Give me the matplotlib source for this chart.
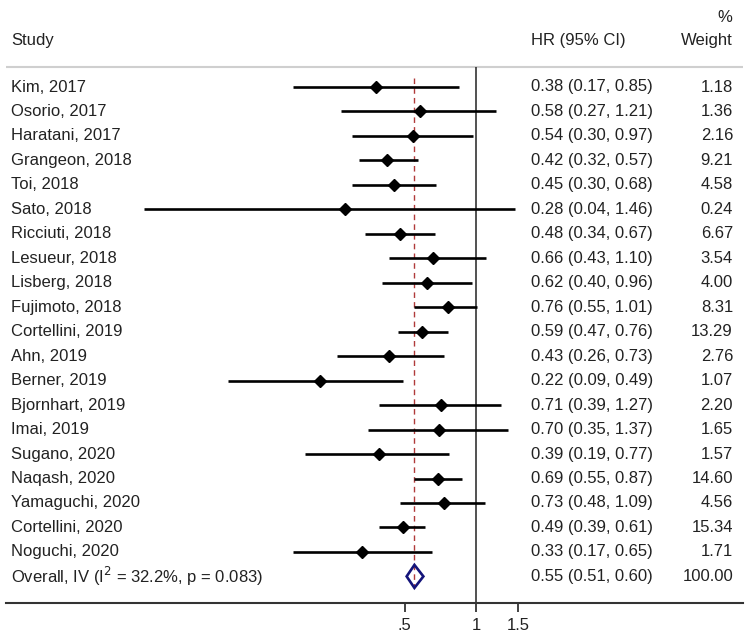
import numpy as np
import matplotlib.pyplot as plt
from matplotlib import transforms
from matplotlib.patches import Polygon

plt.rcParams['font.family'] = ['Liberation Sans', 'DejaVu Sans']

# data
studies = ['Kim, 2017', 'Osorio, 2017', 'Haratani, 2017', 'Grangeon, 2018', 'Toi, 2018',
           'Sato, 2018', 'Ricciuti, 2018', 'Lesueur, 2018', 'Lisberg, 2018', 'Fujimoto, 2018',
           'Cortellini, 2019', 'Ahn, 2019', 'Berner, 2019', 'Bjornhart, 2019', 'Imai, 2019',
           'Sugano, 2020', 'Naqash, 2020', 'Yamaguchi, 2020', 'Cortellini, 2020', 'Noguchi, 2020']
hr = [0.38, 0.58, 0.54, 0.42, 0.45, 0.28, 0.48, 0.66, 0.62, 0.76,
      0.59, 0.43, 0.22, 0.71, 0.70, 0.39, 0.69, 0.73, 0.49, 0.33]
lo = [0.17, 0.27, 0.30, 0.32, 0.30, 0.04, 0.34, 0.43, 0.40, 0.55,
      0.47, 0.26, 0.09, 0.39, 0.35, 0.19, 0.55, 0.48, 0.39, 0.17]
hi = [0.85, 1.21, 0.97, 0.57, 0.68, 1.46, 0.67, 1.10, 0.96, 1.01,
      0.76, 0.73, 0.49, 1.27, 1.37, 0.77, 0.87, 1.09, 0.61, 0.65]
weight = [1.18, 1.36, 2.16, 9.21, 4.58, 0.24, 6.67, 3.54, 4.00, 8.31,
          13.29, 2.76, 1.07, 2.20, 1.65, 1.57, 14.60, 4.56, 15.34, 1.71]

overall_label = 'Overall, IV (I$^2$ = 32.2%, p = 0.083)'
overall_hr, overall_lo, overall_hi, overall_w = 0.55, 0.51, 0.60, 100.00

tick_vals = [0.5, 1, 1.5]
tick_labels = ['.5', '1', '1.5']

W, H = 749, 639
fig = plt.figure(figsize=(W / 100, H / 100), dpi=100)

# axes spans 6..743 px horizontally, 0..603 px vertically (from top)
ax = fig.add_axes([6 / W, (H - 603) / H, 737 / W, 603 / H])
ax.set_xscale('log')
scale = 103.0
ax.set_xlim(np.exp((6 - 476) / scale), np.exp((743 - 476) / scale))
row0, step = 87.0, 24.47
ax.set_ylim((603 - row0) / step, (0 - row0) / step)

for s in ['top', 'left', 'right']:
    ax.spines[s].set_visible(False)
ax.spines['bottom'].set_linewidth(1.5)
ax.spines['bottom'].set_color('#333333')
ax.set_yticks([])
ax.set_xticks(tick_vals)
ax.set_xticklabels(tick_labels)
ax.xaxis.set_minor_locator(plt.NullLocator())
ax.tick_params(axis='x', length=6.5, width=1.2, pad=4, labelsize=12, colors='#222222')

y_top = (66.7 - row0) / step
y_bot = (603 - row0) / step

# header separator
ax.axhline(y_top, color='#cfcfcf', lw=1.5)
# null line
ax.vlines(1, y_top, y_bot, color='#222222', lw=1.1)
# overall effect line
ax.vlines(overall_hr, (78 - row0) / step, (588 - row0) / step, color='#b03a3a',
          lw=1.0, linestyles=(0, (4, 3)), zorder=1)

n = len(studies)
ys = np.arange(n)
ax.hlines(ys, lo, hi, color='black', lw=1.9, zorder=2)
ax.plot(hr, ys, 'D', color='black', ms=6, zorder=3)

# overall diamond
dh = 0.47
diamond = Polygon([(overall_lo, n), (overall_hr, n - dh), (overall_hi, n), (overall_hr, n + dh)],
                  closed=True, fill=False, edgecolor='#14147a', lw=1.9, zorder=3)
ax.add_patch(diamond)

# text columns
trans = transforms.blended_transform_factory(fig.transFigure, ax.transData)
x_study, x_hr, x_w = 11 / W, 531 / W, 733 / W
fs = 12
tc = '#222222'
ax.text(x_study, (40 - row0) / step, 'Study', transform=trans, ha='left', va='center', fontsize=fs, color=tc)
ax.text(x_hr, (40 - row0) / step, 'HR (95% CI)', transform=trans, ha='left', va='center', fontsize=fs, color=tc)
ax.text(x_w, (40 - row0) / step, 'Weight', transform=trans, ha='right', va='center', fontsize=fs, color=tc)
ax.text(x_w - 1 / W, (17 - row0) / step, '%', transform=trans, ha='right', va='center', fontsize=fs, color=tc)

for i in range(n):
    ax.text(x_study, i, studies[i], transform=trans, ha='left', va='center', fontsize=fs, color=tc)
    ax.text(x_hr, i, f'{hr[i]:.2f} ({lo[i]:.2f}, {hi[i]:.2f})', transform=trans,
            ha='left', va='center', fontsize=fs, color=tc)
    ax.text(x_w, i, f'{weight[i]:.2f}', transform=trans, ha='right', va='center', fontsize=fs, color=tc)

ax.text(x_study, n, overall_label, transform=trans, ha='left', va='center', fontsize=fs, color=tc)
ax.text(x_hr, n, f'{overall_hr:.2f} ({overall_lo:.2f}, {overall_hi:.2f})', transform=trans,
        ha='left', va='center', fontsize=fs, color=tc)
ax.text(x_w, n, f'{overall_w:.2f}', transform=trans, ha='right', va='center', fontsize=fs, color=tc)

fig.savefig('out.png', dpi=100)
